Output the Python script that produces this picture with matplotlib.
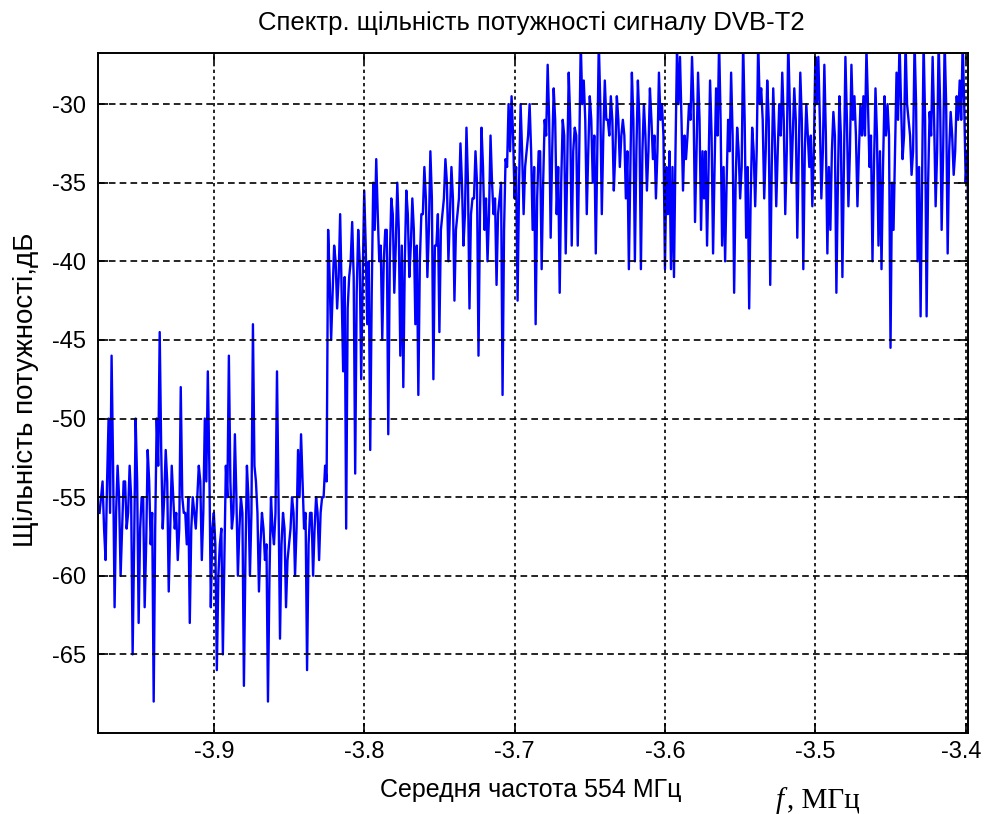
import numpy as np
import matplotlib.pyplot as plt
import matplotlib.transforms as mtransforms

plt.rcParams['font.family'] = ['Liberation Sans', 'DejaVu Sans']
plt.rcParams['axes.unicode_minus'] = False

# Спектральна щільність, дБ (відліки з кроком 1 кГц)
f_start = -3.976   # МГц
f_step = 0.001     # МГц

# парні відліки (викиди)
peak_a = [-56, -54, -59, -50, -46, -62, -53, -60, -54, -57, -53, -65, -50, -63, -55, -62, -52, -58, -68, -50,
          -44.5, -57, -52, -61, -53, -57, -59, -48, -56, -58, -63, -55, -57, -53, -59, -50, -47, -62]
peak_b = [-56, -66, -58, -65, -53, -46, -57, -51, -60, -55, -67, -53, -60, -44, -54, -61, -56, -59, -68, -55,
          -58, -47, -64, -56, -62, -58, -55, -60, -52, -51, -57, -66, -56, -60, -55, -59, -55, -53]
peak_c = [-38, -45, -39, -43, -37, -47, -57, -41, -37.5, -53.5,
          -38, -47.5, -35.5, -44, -52, -35, -33.5, -40, -45, -38,
          -51, -36, -42, -35, -46, -48, -35.5, -41, -36, -44,
          -48.5, -37, -34, -41, -33, -47.5, -39, -44.5, -37, -33.5,
          -40, -34, -42.5, -37, -32.5, -39, -31.5, -43, -36, -33,
          -46, -31.5, -38, -40, -32, -37, -41.5, -36, -48.5, -33.5,
          -30, -29.5, -36]
peak_d = [-42.5, -30, -37, -33, -30, -38, -44, -33, -40.5, -31,
          -27.5, -38.5, -29, -37, -42, -31, -39.5, -28, -39, -31.5,
          -39, -26, -28.5, -37, -29.5, -35, -39.5, -26, -37, -28.5,
          -31, -29.5, -35.5, -29.5, -34, -31, -36, -40.5, -28, -40,
          -28.5, -40.5, -30, -35.5, -29, -33.5, -36, -28, -30, -40.5]
peak_e = [-37, -40.5, -41, -26.5, -27, -35.5, -33.5, -30, -27, -37.5,
          -28, -38, -36, -39, -28.5, -39.5, -29, -26, -39, -40,
          -31, -28, -42, -31.5, -36, -26, -38.5, -43, -31.5, -36.5,
          -26, -29, -36, -28.5, -41.5, -29, -36.5, -30, -28, -37,
          -26, -35, -29, -38.5, -28, -40.5, -30, -34, -36.5, -27]
peak_f = [-27, -36, -27.5, -39.5, -38, -30.5, -42, -29.5, -41, -27,
          -36.5, -27.5, -29.5, -36.5, -30, -29.5, -26.5, -34, -40, -29,
          -39, -40.5, -29.5, -30, -45.5, -38, -28, -26, -33.5, -26,
          -31, -34.5, -26, -40, -43.5, -26, -43.5, -30.5, -27, -36.5,
          -26, -38, -26, -39.5, -30.5, -34.5, -29.5, -28.5, -26, -35,
          -39]

# непарні відліки (основна смуга)
core_a = [-55, -57, -54, -56, -53, -56, -55, -57, -54, -56, -55, -58, -54, -57, -55, -58, -54, -56, -57, -53,
          -52, -55, -54, -57, -55, -56, -57, -55, -56, -55, -57, -56, -55, -54, -56, -54, -53, -57]
core_b = [-58, -60, -57, -59, -55, -54, -56, -55, -57, -56, -59, -55, -56, -53, -56, -58, -57, -58, -60, -57,
          -56, -55, -58, -57, -59, -57, -56, -57, -55, -54, -56, -58, -56, -57, -56, -56, -55, -54]
core_c = [-41, -42, -40, -41, -42, -41, -43, -40, -41, -42,
          -40, -41, -39, -40, -42, -38, -37, -39, -40, -38,
          -40, -37, -39, -38, -39, -40, -37, -39, -38, -39,
          -40, -37, -36, -38, -36, -39, -37, -38, -36, -35,
          -37, -36, -38, -36, -35, -37, -35, -37, -36, -35,
          -37, -34, -36, -37, -35, -36, -37, -35, -38, -34,
          -33, -32, -34]
core_d = [-35, -33, -34, -32, -33, -34, -36, -33, -35, -32,
          -31, -33, -31, -34, -35, -32, -34, -31, -33, -32,
          -33, -30, -31, -33, -31, -32, -33, -30, -32, -31,
          -32, -31, -33, -31, -32, -32, -33, -34, -31, -33,
          -31, -33, -32, -33, -31, -32, -33, -31, -32, -34]
core_e = [-33, -34, -33, -30, -31, -32, -32, -31, -30, -33,
          -31, -33, -33, -34, -32, -34, -32, -31, -34, -35,
          -33, -32, -35, -33, -34, -31, -34, -36, -33, -33,
          -30, -31, -33, -31, -34, -32, -33, -32, -31, -33,
          -30, -32, -31, -33, -31, -33, -32, -32, -33, -30]
core_f = [-31, -33, -32, -34, -33, -32, -35, -32, -34, -31,
          -33, -31, -32, -33, -32, -32, -30, -32, -34, -32,
          -33, -34, -32, -32, -35, -33, -31, -30, -32, -30,
          -32, -33, -30, -34, -35, -31, -35, -32, -31, -33,
          -30, -33, -30, -33, -32, -33, -31, -31, -30, -33,
          -35]

peaks = peak_a + peak_b + peak_c + peak_d + peak_e + peak_f
cores = core_a + core_b + core_c + core_d + core_e + core_f
psd_db = np.column_stack([peaks, cores]).ravel()
freq = f_start + f_step * np.arange(len(psd_db))

x_ticks = [-3.9, -3.8, -3.7, -3.6, -3.5, -3.4]
y_ticks = [-65, -60, -55, -50, -45, -40, -35, -30]

fig = plt.figure(figsize=(9.84, 8.14), dpi=100)
ax = fig.add_axes([0.1001, 0.0995, 0.8836, 0.8354])
ax.plot(freq, psd_db, color='#0000ff', lw=1.7)

ax.set_xlim(-3.9767, -3.3985)
ax.set_ylim(-70, -26.75)
ax.set_xticks(x_ticks)
ax.set_yticks(y_ticks)
ax.set_xticklabels([str(v) for v in x_ticks])
ax.set_yticklabels([str(v) for v in y_ticks])

ax.set_axisbelow(False)
ax.xaxis.grid(True, color='k', lw=1.2, ls=(0, (2, 2)))
ax.yaxis.grid(True, color='k', lw=1.2, ls=(0, (4, 2.5)))
ax.tick_params(direction='in', top=True, right=True, length=7, width=1.2,
               labelsize=17, colors='black')
ax.tick_params(axis='y', pad=9)
ax.tick_params(axis='x', pad=6)
for s in ax.spines.values():
    s.set_linewidth(1.4)

# зсунути останню підпис -3.4 трохи вліво, щоб не обрізалась
last = ax.get_xticklabels()[-1]
last.set_transform(last.get_transform() + mtransforms.ScaledTranslation(-4 / 100, 0, fig.dpi_scale_trans))

fig.text(0.540, 0.972, 'Спектр. щільність потужності сигналу DVB-T2', ha='center', va='center', fontsize=18.5)
fig.text(0.026, 0.521, 'Щільність потужності,дБ', ha='center', va='center', rotation=90, fontsize=20)
fig.text(0.539, 0.030, 'Середня частота 554 МГц', ha='center', va='center', fontsize=18)
fig.text(0.788, 0.017, 'f', ha='left', va='center', fontsize=21, family='Liberation Serif', style='italic')
fig.text(0.800, 0.017, ', МГц', ha='left', va='center', fontsize=21, family='Liberation Serif')

plt.savefig('out.png', dpi=100)
